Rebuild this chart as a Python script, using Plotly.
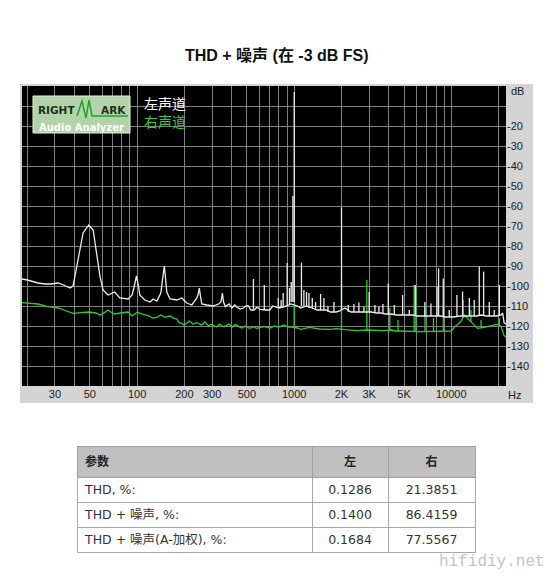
import numpy as np
import plotly.graph_objects as go

W, H = 558, 582

# ---- spectrum data ----
# left channel (white): noise floor incl. broad hum peaks
white_floor_f = [18.5, 20, 23.4, 26, 28.3, 31.4, 34, 37.4, 39.1, 42.1,
                 45.3, 49.2, 52.5, 54.8, 58.1, 60.7, 65.3, 72, 77.6, 87.7,
                 92.9, 96, 99, 102, 104, 112, 121, 126.5, 133.5, 141.5,
                 145, 149, 152, 154.5, 162, 179, 192.6, 207, 223, 240,
                 245, 249, 253, 258, 278, 305, 330, 342, 349, 355,
                 364, 385, 401, 418, 431, 452, 475, 493, 511, 530,
                 556, 580, 607, 632, 658, 700, 730, 760, 800, 850,
                 900, 950, 1050, 1100, 1200, 1300, 1400, 1500, 1600, 1700,
                 1850, 1950, 2100, 2300, 2480, 2680, 2900, 3100, 3360, 3560,
                 3800, 4100, 4500, 5100, 5700, 6100, 7000, 7700, 8500, 9200,
                 10300, 11300, 12400, 13500, 14500, 15500, 16700, 18000, 19500, 20800,
                 21240, 21700, 22290]
white_floor_db = [-96.5, -97, -98.5, -99, -99, -98.5, -99.5, -101, -100, -87,
                  -73.5, -69.5, -72, -82, -95.5, -102, -104.5, -103, -106, -106.5,
                  -104.5, -100, -95, -100, -104.5, -107, -108, -106.5, -107.5, -103.5,
                  -97, -90, -97, -103, -106.5, -107, -106, -108.5, -109.5, -106,
                  -104, -101, -105, -109, -109.5, -110, -109, -108, -103.5, -108,
                  -110.3, -109, -111, -109.5, -110.5, -111.5, -111, -110, -110, -112,
                  -112, -110.5, -111.7, -112, -112, -112, -110, -110.5, -111, -110.5,
                  -110, -109, -110, -111, -110, -111, -112, -112, -112, -113,
                  -113, -112.5, -111, -113, -113, -113, -113, -113, -113.5, -113.5,
                  -114, -114, -114.5, -114.5, -114.5, -115, -115, -115, -115, -115.5,
                  -115.5, -115, -115, -115, -115, -114.5, -115, -115, -115, -114.5,
                  -113.5, -118.5, -119]
# left channel discrete spikes: frequency, top, foot
white_spike_f = [550, 645, 791, 826, 851, 902, 933, 957, 981, 1000,
                 1112, 1153, 1198, 1241, 1303, 1368, 1472, 1546, 1640, 1791,
                 2000, 2207, 2399, 2581, 2779, 3000, 3266, 3461, 3671, 3970,
                 4336, 4900, 5400, 5900, 6790, 7420, 8110, 8300, 8890, 9700,
                 10860, 11800, 13030, 14000, 15070, 16060, 17460, 18780, 20230]
white_spike_top = [-96.5, -99.5, -106, -107, -103.5, -88.5, -101, -98, -55, -3,
                   -88.3, -102, -103, -103.5, -106, -108, -104, -106, -110, -108,
                   -60.7, -109.5, -109, -108.3, -110.3, -103, -109.5, -110.3, -109, -98.7,
                   -109.5, -104.5, -112, -99.5, -108, -108.7, -100.3, -91.2, -96.2, -112,
                   -104.5, -102.8, -106, -107, -90.3, -92.8, -108, -112, -99.5]
white_spike_foot = [-111.5, -112, -111, -110.5, -110, -110, -109, -108, -108, -108,
                    -110, -110, -110, -111, -111, -112, -112, -112, -113, -113,
                    -112, -113, -113, -113, -113, -113, -113.5, -113.5, -114, -114,
                    -114.5, -114.5, -114.5, -115, -115, -115, -115, -115, -115, -115.5,
                    -115, -115, -115, -115, -114.5, -115, -115, -115, -114.5]

# right channel (green)
green_floor_f = [18.5, 23.4, 27, 31.5, 35.5, 39.1, 44, 49, 54.8, 58.1,
                 62, 65.3, 68, 72, 78.5, 87.7, 92.9, 100.5, 104.5, 113,
                 120, 125, 133.5, 141.5, 150, 162, 170, 179, 185, 192.6,
                 200, 207, 215, 227, 240, 258, 270, 285, 295, 305,
                 320, 334, 350, 367, 385, 403, 420, 445, 465, 490,
                 520, 550, 580, 607, 650, 700, 750, 800, 860, 920,
                 960, 1050, 1100, 1250, 1450, 1700, 1850, 2100, 2200, 2500,
                 2900, 3300, 3700, 4150, 4400, 4700, 5500, 6100, 6700, 7600,
                 8700, 9600, 10000, 10560, 11500, 12100, 12700, 13650, 14700, 16200,
                 17900, 19730, 20770, 21600, 22290]
green_floor_db = [-108.3, -109, -110.3, -111, -112.5, -113.7, -113.3, -113, -113.5, -114.5,
                  -113.3, -112, -113, -114, -113.5, -113, -115, -113, -113.7, -114.5,
                  -115, -116, -115.7, -114.5, -115.7, -115, -116, -116.5, -118.3, -118.7,
                  -119.5, -118.5, -117.5, -119, -118.3, -119.5, -118, -120, -119.2, -119.5,
                  -120.5, -119, -120.2, -120, -119, -120.5, -119.3, -120.3, -121, -120,
                  -121.2, -120.5, -121.2, -120.7, -120.3, -121, -120, -120.5, -119.5, -120.5,
                  -120.5, -121, -121.7, -120.7, -121.5, -121.7, -121.3, -121.8, -122, -122.3,
                  -122, -122.2, -122.3, -122, -122.5, -122.5, -122.8, -122.8, -122.8, -122.8,
                  -122.8, -122.5, -122.5, -120.3, -117.8, -114.5, -116, -118.7, -121.2, -120.7,
                  -119.8, -119.2, -120.3, -124.5, -125.7]
green_spike_f = [1000, 2000, 2900, 4060, 4580, 5800, 5950, 6800, 7700, 8900,
                 11900, 13330, 15470, 20230]
green_spike_top = [-92.8, -98.7, -97, -111, -117, -99.5, -99.5, -111, -116, -109.5,
                   -107, -112, -117, -116]
green_spike_foot = [-120, -121.5, -122, -122, -122.5, -122.8, -122.8, -122.8, -122.8, -122.8,
                    -116, -118, -121, -119.5]

# axes
grid_f = [20, 30, 40, 50, 60, 70, 80, 90, 100, 200, 300, 400, 500, 600, 700, 800, 900,
          1000, 2000, 3000, 4000, 5000, 6000, 7000, 8000, 9000, 10000, 20000]
freq_labels = {30: '30', 50: '50', 100: '100', 200: '200', 300: '300', 500: '500',
               1000: '1000', 2000: '2K', 3000: '3K', 5000: '5K', 10000: '10000'}
db_ticks = list(range(-140, 0, 10))

# results table
params = ['THD, %:', 'THD + 噪声, %:', 'THD + 噪声(A-加权), %:']
left_vals = ['0.1286', '0.1400', '0.1684']
right_vals = ['21.3851', '86.4159', '77.5567']


def px(x):
    return x / W


def py(y):
    return 1 - y / H


def spikes(f, top, foot):
    xs, ys = [], []
    for a, b, c in zip(f, top, foot):
        xs += [a, a, None]
        ys += [c, b, None]
    return xs, ys


WHITE = '#ececec'
GREEN = '#2ccc2c'

fig = go.Figure()

for ff, fd, sf, st, sb, col in [
    (green_floor_f, green_floor_db, green_spike_f, green_spike_top, green_spike_foot, GREEN),
    (white_floor_f, white_floor_db, white_spike_f, white_spike_top, white_spike_foot, WHITE),
]:
    fig.add_trace(go.Scatter(x=ff, y=fd, mode='lines', line=dict(color=col, width=1.3),
                             hoverinfo='skip', showlegend=False))
    sx, sy = spikes(sf, st, sb)
    fig.add_trace(go.Scatter(x=sx, y=sy, mode='lines', line=dict(color=col, width=1.3),
                             hoverinfo='skip', showlegend=False))

fig.add_trace(go.Table(
    domain=dict(x=[px(77), px(476)], y=[py(560), py(446)]),
    columnwidth=[235, 76, 87],
    header=dict(values=['<b>参数</b>', '<b>左</b>', '<b>右</b>'],
                fill_color='#c0c0c0', line_color='#a0a0a0',
                align=['left', 'center', 'center'], height=24,
                font=dict(family='DejaVu Sans, Noto Sans CJK SC', size=12, color='#222222')),
    cells=dict(values=[params, left_vals, right_vals],
               fill_color='white', line_color='#a8a8a8',
               align=['left', 'center', 'center'], height=25,
               font=dict(family='DejaVu Sans, Noto Sans CJK SC', size=12.5, color='#333333')),
))

tick_font = dict(family='Liberation Sans, Arial', size=11, color='#202020')

fig.update_xaxes(
    type='log', domain=[px(22), px(506)],
    range=[np.log10(18.5), np.log10(22300)],
    tickvals=grid_f, ticktext=[freq_labels.get(v, '') for v in grid_f],
    showgrid=True, gridcolor='#808080', gridwidth=1,
    ticks='', showline=False, zeroline=False, tickfont=tick_font,
    automargin=False, fixedrange=True,
)
fig.update_yaxes(
    domain=[py(386), py(86)], range=[-150, 0], side='right',
    tickvals=db_ticks, ticktext=['' if v == -10 else str(v) for v in db_ticks],
    showgrid=True, gridcolor='#808080', gridwidth=1,
    ticks='', showline=False, zeroline=False, tickfont=tick_font,
    automargin=False, fixedrange=True,
)

shapes = [
    # gray frame around the graph
    dict(type='rect', xref='paper', yref='paper', x0=px(20), x1=px(533), y0=py(403), y1=py(84),
         fillcolor='#d4d4d4', line=dict(width=0), layer='below'),
    dict(type='rect', xref='paper', yref='paper', x0=px(22), x1=px(506), y0=py(386), y1=py(86),
         fillcolor='black', line=dict(width=0), layer='below'),
    # RightMark logo box
    dict(type='rect', xref='paper', yref='paper', x0=px(33), x1=px(130), y0=py(133), y1=py(96),
         fillcolor='#b2d3aa', line=dict(color='#e4f2e2', width=1)),
]
wave = [(77, 116), (82, 101), (86, 118), (89, 100), (92, 116), (128, 116)]
path = 'M ' + ' L '.join(f'{px(x):.5f},{py(y):.5f}' for x, y in wave)
shapes.append(dict(type='path', xref='paper', yref='paper', path=path,
                   line=dict(color='#21a321', width=1.5)))

ann = [
    dict(text='<b>THD + 噪声 (在 -3 dB FS)</b>', x=px(277), y=py(55),
         font=dict(family='Liberation Sans, Noto Sans CJK SC', size=16, color='#111111')),
    dict(text='dB', x=px(509), y=py(91), xanchor='left', font=tick_font),
    dict(text='Hz', x=px(506), y=py(395), xanchor='left', font=tick_font),
    dict(text="左声道<br><span style='color:#33cc33'>右声道</span>",
         x=px(142), y=py(112.5), xanchor='left', align='left',
         font=dict(family='Noto Sans CJK SC', size=14, color='white')),
    dict(text='<b>RIGHT</b>', x=px(36), y=py(110), xanchor='left',
         font=dict(family='DejaVu Sans', size=10.5, color='#1c301c')),
    dict(text='<b>ARK</b>', x=px(128), y=py(110), xanchor='right',
         font=dict(family='DejaVu Sans', size=10.5, color='#1c301c')),
    dict(text='<b>Audio Analyzer</b>', x=px(81.5), y=py(127),
         font=dict(family='DejaVu Sans', size=10, color='white')),
    dict(text='hifidiy.net', x=px(492), y=py(562),
         font=dict(family='Liberation Mono, Courier New', size=16, color='#c4c4c4')),
]
for a in ann:
    a.update(xref='paper', yref='paper', showarrow=False)
    a.setdefault('xanchor', 'center')
    a.setdefault('yanchor', 'middle')

fig.update_layout(
    width=W, height=H, autosize=False,
    margin=dict(l=0, r=0, t=0, b=0),
    paper_bgcolor='white', plot_bgcolor='black',
    showlegend=False, shapes=shapes, annotations=ann,
)

# the page body has a default 8px margin; drop it so the figure sits at 0,0
fig.write_html('out.html', config={'displayModeBar': False},
               post_script="document.body.style.margin='0px';")
